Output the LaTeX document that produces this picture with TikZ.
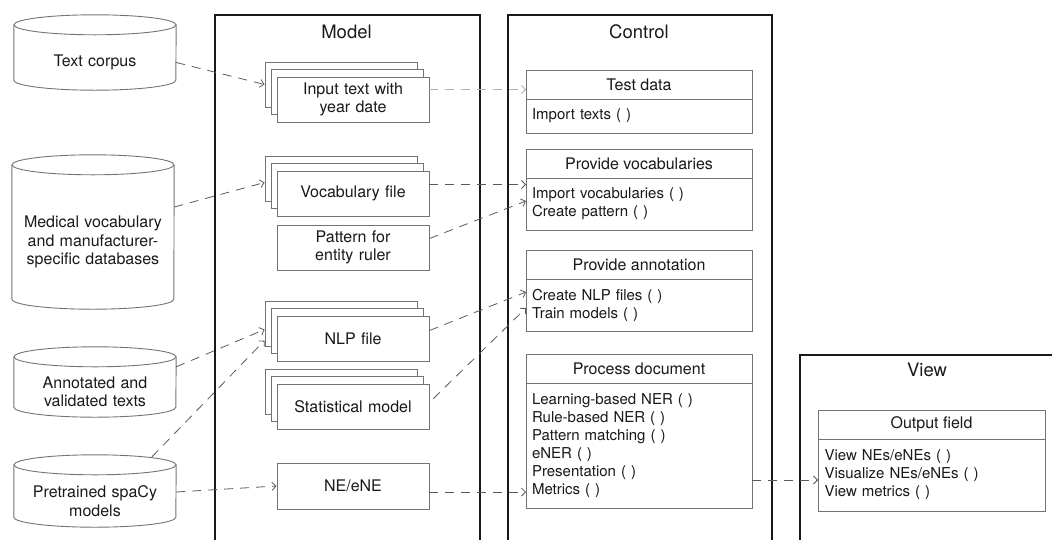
\documentclass[tikz,border=0pt]{standalone}
\usepackage{fontspec}
\setmainfont{TeX Gyre Heros}
\usetikzlibrary{arrows.meta, positioning}
\definecolor{linegray}{RGB}{115,115,115}
\definecolor{flowgray}{RGB}{90,90,90}
\definecolor{inkblack}{RGB}{25,25,25}

\begin{document}
\begin{tikzpicture}[
    x=1pt, y=1pt,
    font=\fontsize{15}{18}\selectfont, text=inkblack,
    frame/.style={rectangle, draw=inkblack, line width=1.5pt, anchor=north west},
    title/.style={font=\fontsize{18.5}{22}\selectfont},
    store/.style={rectangle, minimum width=162pt, text width=155pt, align=center, inner sep=0pt, font=\fontsize{16}{18.5}\selectfont},
    drumline/.style={draw=linegray, line width=0.9pt},
    file/.style={rectangle, draw=linegray, fill=white, line width=0.9pt, minimum width=152pt, minimum height=45pt, text width=145pt, align=center, inner sep=0pt, font=\fontsize{16}{18.5}\selectfont},
    head/.style={rectangle, draw=linegray, fill=white, line width=0.9pt, minimum width=226pt, minimum height=29pt, inner sep=0pt, outer sep=0pt, font=\fontsize{16}{18.5}\selectfont},
    body/.style={rectangle, draw=linegray, fill=white, line width=0.9pt, minimum width=226pt, text width=214pt, align=left, inner sep=0pt, outer sep=0pt},
    flow/.style={-{Straight Barb[length=4pt, width=8pt]}, draw=flowgray, line width=0.8pt, dash pattern=on 9pt off 7pt}
]
    \useasboundingbox (0,0) rectangle (1052,-539);
    \clip (0,0) rectangle (1052,-539);

    % Frames
    \node[frame, minimum width=265pt, minimum height=560pt] (model) at (214,-14) {};
    \node[frame, minimum width=264pt, minimum height=560pt] (control) at (507,-14) {};
    \node[frame, minimum width=300pt, minimum height=300pt] (view) at (799,-354) {};
    \node[title] (model-title) at (346.5,-31.5) {Model};
    \node[title] (control-title) at (639,-31.5) {Control};
    \node[title] (view-title) at (927,-370) {View};

    % Data sources
    \node[store, minimum height=55pt] (corpus) at (95,-62.5) {Text corpus};
    \node[store, minimum height=134pt] (medical) at (93,-242) {Medical vocabulary\\and manufacturer-\\specific databases};
    \node[store, minimum height=50pt] (annot) at (95,-392) {Annotated and\\validated texts};
    \node[store, minimum height=52pt] (pretrained) at (95,-501) {Pretrained spaCy\\models};
    \foreach \n in {corpus, medical, annot, pretrained} {
        \draw[drumline] ([yshift=10pt]\n.north) ellipse [x radius=81pt, y radius=10pt];
        \draw[drumline] ([yshift=10pt]\n.north west) -- ([yshift=10pt]\n.south west)
            arc [start angle=180, end angle=360, x radius=81pt, y radius=10pt]
            -- ([yshift=10pt]\n.north east);
    }

    % Model: files
    \node[file] (input-b) at (341,-84.5) {};
    \node[file] (input-m) at (347,-92) {};
    \node[file] (input) at (353,-99.5) {Input text with\\year date};

    \node[file] (vocab-b) at (341,-178.5) {};
    \node[file] (vocab-m) at (347,-186) {};
    \node[file] (vocab) at (353,-193.5) {Vocabulary file};
    \node[file] (pattern) at (353,-247.5) {Pattern for\\entity ruler};

    \node[file] (nlp-b) at (341,-323.5) {};
    \node[file] (nlp-m) at (347,-331) {};
    \node[file] (nlp) at (353,-338.5) {NLP file};

    \node[file] (stat-b) at (341,-391.5) {};
    \node[file] (stat-m) at (347,-399) {};
    \node[file] (stat) at (353,-406.5) {Statistical model};

    \node[file, minimum height=46pt] (ne) at (353,-486) {NE/eNE};

    % Control: classes
    \node[head] (testdata) at (639,-84.5) {Test data};
    \node[body, minimum height=34pt, below=0pt of testdata] (testdata-m) {Import texts ( )};

    \node[head] (provvoc) at (639,-163.5) {Provide vocabularies};
    \node[body, minimum height=52pt, below=0pt of provvoc] (provvoc-m) {Import vocabularies ( )\\Create pattern ( )};

    \node[head] (provann) at (639,-264.5) {Provide annotation};
    \node[body, minimum height=52pt, below=0pt of provann] (provann-m) {Create NLP files ( )\\Train models ( )};

    \node[head] (procdoc) at (639,-368.5) {Process document};
    \node[body, minimum height=125pt, below=0pt of procdoc] (procdoc-m) {Learning-based NER ( )\\Rule-based NER ( )\\Pattern matching ( )\\eNER ( )\\Presentation ( )\\Metrics ( )};

    % View
    \node[head, minimum width=227pt] (output) at (931.5,-424.5) {Output field};
    \node[body, minimum width=227pt, minimum height=72pt, below=0pt of output] (output-m) {View NEs/eNEs ( )\\Visualize NEs/eNEs ( )\\View metrics ( )};

    % Connections
    \draw[flow] (corpus.east) -- (input-b.west);
    \draw[flow, draw=gray!60] ([yshift=10pt]input.east) -- ([yshift=10pt]input.east -| testdata.west);
    \draw[flow] ([yshift=35pt]medical.east) -- ([yshift=-4pt]vocab-b.west);
    \draw[flow] ([yshift=9pt]vocab.east) -- ([yshift=9pt]vocab.east -| provvoc-m.west);
    \draw[flow] ([yshift=9pt]pattern.east) -- ([yshift=3pt]provvoc-m.west);
    \draw[flow] (annot.north east) -- ([yshift=-6pt]nlp-b.west);
    \draw[flow] ([xshift=57pt, yshift=18pt]pretrained.north) -- ([yshift=-17pt]nlp-b.west);
    \draw[flow] ([yshift=9pt]pretrained.east) -- (ne.west);
    \draw[flow] ([yshift=8pt]nlp.east) -- ([yshift=13pt]provann-m.west);
    \draw[flow] ([xshift=4pt, yshift=8pt]stat.east) -- ([yshift=-3pt]provann-m.west);
    \draw[flow] ([yshift=-6pt]ne.east) -- ([yshift=-6pt]ne.east -| procdoc-m.west);
    \draw[flow] ([yshift=-34.5pt]procdoc-m.east) -- ([yshift=-34.5pt]procdoc-m.east -| output-m.west);
\end{tikzpicture}
\end{document}
